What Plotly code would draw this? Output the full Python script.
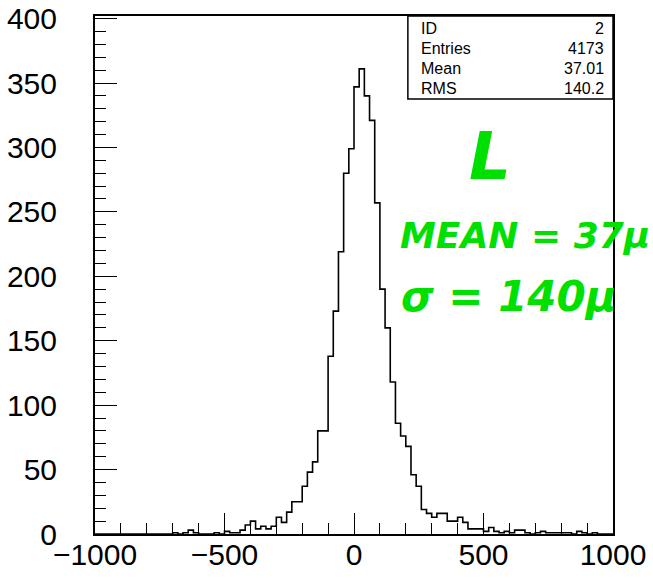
import plotly.graph_objects as go

# ---- data ----
x_min = -1000
bin_width = 20
counts = [
    0, 0, 0, 0, 0, 0, 0, 0, 0, 0,          # -1000 .. -800
    0, 0, 0, 0, 0, 1, 0, 1, 3, 1,          # -800 .. -600
    0, 0, 0, 1, 0, 2, 1, 1, 3, 7,          # -600 .. -400
    10, 4, 6, 4, 6, 13, 9, 17, 25, 25,     # -400 .. -200
    37, 48, 56, 80, 80, 138, 173, 219, 280, 299,   # -200 .. 0
    347, 361, 340, 321, 257, 190, 160, 118, 86, 76,  # 0 .. 200
    68, 46, 37, 19, 16, 13, 16, 16, 10, 10,  # 200 .. 400
    13, 9, 4, 4, 4, 2, 5, 2, 1, 2,          # 400 .. 600
    1, 3, 3, 1, 0, 1, 2, 1, 1, 1,          # 600 .. 800
    1, 1, 0, 2, 1, 0, 1, 0, 0, 0,          # 800 .. 1000
]
x_ticks = [-1000, -500, 0, 500, 1000]
y_ticks = [0, 50, 100, 150, 200, 250, 300, 350, 400]
stat_labels = ["ID", "Entries", "Mean", "RMS"]
stat_values = ["2", "4173", "37.01", "140.2"]
notes = ["L", "MEAN = 37μ", "σ = 140μ"]

edges = [x_min + i * bin_width for i in range(len(counts) + 1)]
xs = edges
ys = counts + [counts[-1]]

fig = go.Figure()
fig.add_trace(go.Scatter(x=xs, y=ys, mode="lines", line_shape="hv",
                         line=dict(color="black", width=1.6),
                         hoverinfo="skip", showlegend=False))

tickfont = dict(family="Liberation Sans, Arial, sans-serif", size=30, color="black")
fig.update_xaxes(range=[-1000, 1000], tickvals=x_ticks,
                 ticktext=[("−" + str(abs(v))) if v < 0 else str(v) for v in x_ticks],
                 ticks="inside", ticklen=21, tickwidth=1, tickcolor="black",
                 minor=dict(dtick=100, ticks="inside", ticklen=11, tickcolor="black", tickwidth=1),
                 showline=True, linecolor="black", linewidth=2, mirror=True,
                 showgrid=False, zeroline=False, tickfont=tickfont, automargin=False,
                 ticklabelstandoff=-7)
fig.update_yaxes(range=[0, 402], tickvals=y_ticks,
                 ticks="inside", ticklen=22, tickwidth=1, tickcolor="black",
                 minor=dict(dtick=10, ticks="inside", ticklen=11, tickcolor="black", tickwidth=1),
                 showline=True, linecolor="black", linewidth=2, mirror=True,
                 showgrid=False, zeroline=False, tickfont=tickfont,
                 ticklabelstandoff=30, automargin=False)

# stats box
box_x0, box_y0 = 0.604, 0.840
fig.add_shape(type="rect", xref="paper", yref="paper", x0=box_x0, x1=1.0, y0=box_y0, y1=1.0,
              line=dict(color="black", width=1.5), fillcolor="white", layer="above")
row_y = [0.975, 0.937, 0.899, 0.860]
for lab, val, yy in zip(stat_labels, stat_values, row_y):
    fig.add_annotation(xref="paper", yref="paper", x=0.625, y=yy, text=lab, showarrow=False,
                       xanchor="left", yanchor="middle",
                       font=dict(family="Liberation Sans, Arial, sans-serif", size=16, color="black"))
    fig.add_annotation(xref="paper", yref="paper", x=0.987, y=yy, text=val, showarrow=False,
                       xanchor="right", yanchor="middle",
                       font=dict(family="Liberation Sans, Arial, sans-serif", size=16, color="black"))

# green handwritten notes
note_pos = [(0.763, 0.728, 66), (0.830, 0.576, 36), (0.800, 0.458, 42)]
for txt, (nx, ny, fs) in zip(notes, note_pos):
    fig.add_annotation(xref="paper", yref="paper", x=nx, y=ny, text=txt, showarrow=False,
                       xanchor="center", yanchor="middle",
                       font=dict(family="DejaVu Sans, sans-serif", size=fs, color="#00e000",
                                 style="italic", weight="bold"))

fig.update_layout(width=653, height=578,
                  margin=dict(l=95, r=40, t=16, b=43.5),
                  paper_bgcolor="white", plot_bgcolor="white")

fig.write_html("out.html")
